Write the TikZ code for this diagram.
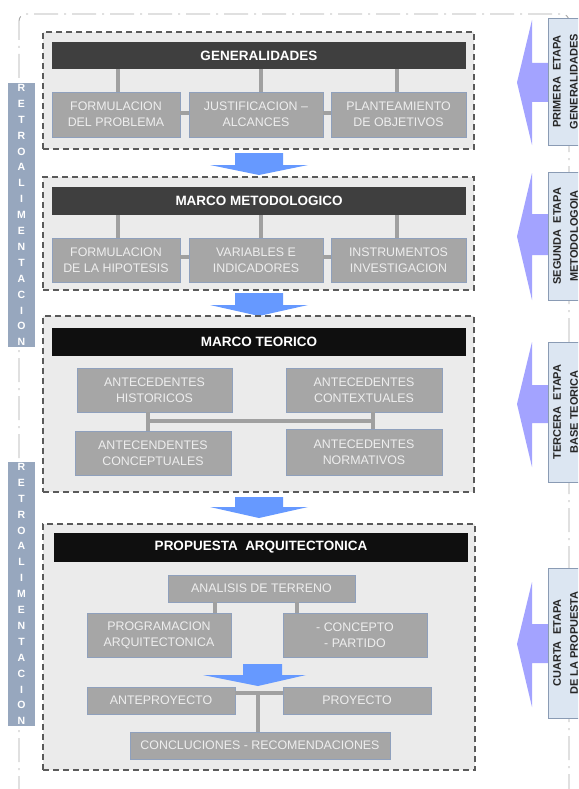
\documentclass[tikz,border=0pt]{standalone}
\usepackage{fontspec}
\setmainfont{Liberation Sans}
\usetikzlibrary{calc}
\definecolor{panelfill}{HTML}{EBEBEB}
\definecolor{paneldraw}{HTML}{5A5A5A}
\definecolor{hdrdark}{HTML}{3F3F3F}
\definecolor{hdrblack}{HTML}{0F0F0F}
\definecolor{subfill}{HTML}{A6A6A6}
\definecolor{subdraw}{HTML}{8FA0BC}
\definecolor{subtext}{HTML}{EEEEEE}
\definecolor{conn}{HTML}{A0A0A0}
\definecolor{bluarrow}{HTML}{6699FF}
\definecolor{lavarrow}{HTML}{A3A3FF}
\definecolor{stagefill}{HTML}{DCE6F2}
\definecolor{stagedraw}{HTML}{8A9BB4}
\definecolor{retrofill}{HTML}{97A7BE}
\definecolor{framecol}{HTML}{A8A8A8}
\begin{document}
\begin{tikzpicture}[x=1pt,y=-1pt,
  panel/.style={draw=paneldraw, fill=panelfill, line width=1.3pt, dash pattern=on 6pt off 4pt, inner sep=0pt, outer sep=0pt},
  hdr/.style={fill=#1, inner sep=0pt, outer sep=0pt, text=white, font=\fontsize{13.5}{15}\selectfont\bfseries},
  sub/.style={draw=subdraw, line width=0.8pt, fill=subfill, inner sep=0pt, outer sep=0pt, text=subtext, align=center, font=\fontsize{12.4}{16}\selectfont},
  link/.style={draw=conn, line width=3.3pt},
  stagebox/.style={draw=stagedraw, line width=0.8pt, fill=stagefill, inner sep=0pt, outer sep=0pt},
  stagetext/.style={rotate=90, align=center, text=black!85, font=\fontsize{11}{17}\selectfont\bfseries, inner sep=0pt},
  retro/.style={fill=retrofill, inner sep=0pt, outer sep=0pt, text=white, align=center, font=\fontsize{10.5}{15.9}\selectfont\bfseries},
  frame/.style={draw=framecol, line width=0.9pt, dash pattern=on 24pt off 6pt on 2pt off 6pt}
]
\useasboundingbox (0,0) rectangle (578,789);
\clip (0,0) rectangle (578,789);
\fill[white] (0,0) rectangle (578,789);

% outer dash-dot frame
\draw[frame, rounded corners=7pt] (19,800) -- (19,14) -- (569,14) -- (569,800);

% retroalimentacion boxes
\node[retro, minimum width=27pt, minimum height=264pt] (r1) at (21.5,215) {R\\E\\T\\R\\O\\A\\L\\I\\M\\E\\N\\T\\A\\C\\I\\O\\N};
\node[retro, minimum width=27pt, minimum height=264pt] (r2) at (21.5,594) {R\\E\\T\\R\\O\\A\\L\\I\\M\\E\\N\\T\\A\\C\\I\\O\\N};

% side (lavender) arrows
\fill[lavarrow] (517,82.5) -- (532,20) -- (532,63) -- (552,63) -- (552,102) -- (532,102) -- (532,145) -- cycle;
\fill[lavarrow] (517,236.5) -- (532,173) -- (532,214) -- (552,214) -- (552,255) -- (532,255) -- (532,300) -- cycle;
\fill[lavarrow] (517,404) -- (532,342) -- (532,385) -- (552,385) -- (552,423) -- (532,423) -- (532,467) -- cycle;
\fill[lavarrow] (517,644) -- (532,582) -- (532,624) -- (552,624) -- (552,663) -- (532,663) -- (532,707) -- cycle;

% stage boxes
\node[stagebox, minimum width=35pt, minimum height=127pt] (s1) at (565.5,81.5) {};
\node[stagetext] (s1t) at (s1.center) {PRIMERA\ \ ETAPA\\GENERALIDADES};
\node[stagebox, minimum width=35pt, minimum height=128pt] (s2) at (565.5,236) {};
\node[stagetext] (s2t) at (s2.center) {SEGUNDA\ \ ETAPA\\METODOLOGOIA};
\node[stagebox, minimum width=35pt, minimum height=140pt] (s3) at (565.5,412) {};
\node[stagetext] (s3t) at (s3.center) {TERCERA\ \ ETAPA\\BASE TEORICA};
\node[stagebox, minimum width=35pt, minimum height=150pt] (s4) at (565.5,643) {};
\node[stagetext] (s4t) at (s4.center) {CUARTA\ \ ETAPA\\DE LA PROPUESTA};

% ---------- panel 1
\node[panel, minimum width=431pt, minimum height=117pt] (p1) at (258.5,90.5) {};
\node[hdr=hdrdark, minimum width=414pt, minimum height=27pt] (h1) at (259,55.5) {GENERALIDADES};
\node[sub, minimum width=128pt, minimum height=45pt] (a1) at (116,114.5) {FORMULACION\\DEL PROBLEMA};
\node[sub, minimum width=134pt, minimum height=45pt] (a2) at (256,114.5) {JUSTIFICACION --\\ALCANCES};
\node[sub, minimum width=135pt, minimum height=45pt] (a3) at (398.5,114.5) {PLANTEAMIENTO\\DE OBJETIVOS};
\draw[link] ([xshift=2pt]a1.north) -- ([xshift=2pt]a1.north |- h1.south);
\draw[link] ([xshift=5pt]a2.north) -- ([xshift=5pt]a2.north |- h1.south);
\draw[link] ([xshift=-1.5pt]a3.north) -- ([xshift=-1.5pt]a3.north |- h1.south);
\draw[link] ([yshift=1.5pt]a1.east) -- ([yshift=1.5pt]a2.west);
\draw[link] ([yshift=1.5pt]a2.east) -- ([yshift=1.5pt]a3.west);

% arrow 1 -> 2
\fill[bluarrow] (235,153) -- (283,153) -- (283,165) -- (308,165) -- (259,175) -- (210,165) -- (235,165) -- cycle;

% ---------- panel 2
\node[panel, minimum width=431pt, minimum height=113pt] (p2) at (258.5,233.5) {};
\node[hdr=hdrdark, minimum width=414pt, minimum height=28pt] (h2) at (259,201) {MARCO METODOLOGICO};
\node[sub, minimum width=128pt, minimum height=44pt] (b1) at (116,260) {FORMULACION\\DE LA HIPOTESIS};
\node[sub, minimum width=134pt, minimum height=44pt] (b2) at (256,260) {VARIABLES E\\INDICADORES};
\node[sub, minimum width=135pt, minimum height=44pt] (b3) at (398.5,260) {INSTRUMENTOS\\INVESTIGACION};
\draw[link] ([xshift=2pt]b1.north) -- ([xshift=2pt]b1.north |- h2.south);
\draw[link] ([xshift=5pt]b2.north) -- ([xshift=5pt]b2.north |- h2.south);
\draw[link] ([xshift=-1.5pt]b3.north) -- ([xshift=-1.5pt]b3.north |- h2.south);
\draw[link] ([yshift=3pt]b1.east) -- ([yshift=3pt]b2.west);
\draw[link] ([yshift=3pt]b2.east) -- ([yshift=3pt]b3.west);

% arrow 2 -> 3
\fill[bluarrow] (235,293) -- (283,293) -- (283,305) -- (308,305) -- (259,316) -- (210,305) -- (235,305) -- cycle;

% ---------- panel 3
\node[panel, minimum width=431pt, minimum height=176pt] (p3) at (258.5,404) {};
\node[hdr=hdrblack, minimum width=414pt, minimum height=28pt] (h3) at (259,342) {MARCO TEORICO};
\node[sub, minimum width=155pt, minimum height=44pt] (c1) at (154.5,390) {ANTECEDENTES\\HISTORICOS};
\node[sub, minimum width=156pt, minimum height=44pt] (c2) at (364,390) {ANTECEDENTES\\CONTEXTUALES};
\node[sub, minimum width=156pt, minimum height=44pt] (c3) at (153,453) {ANTECENDENTES\\CONCEPTUALES};
\node[sub, minimum width=156pt, minimum height=46pt] (c4) at (364,452) {ANTECEDENTES\\NORMATIVOS};
\coordinate (j1) at ($(c1.south)+(-6.5,9)$);
\coordinate (j2) at ($(c2.south)+(9,9)$);
\draw[link] ([xshift=-6.5pt]c1.south) -- ([xshift=-6.5pt]c1.south |- c3.north);
\draw[link] ([xshift=9pt]c2.south) -- ([xshift=9pt]c2.south |- c4.north);
\draw[link] (j1) -- (j2);

% arrow 3 -> 4
\fill[bluarrow] (235,497) -- (283,497) -- (283,507) -- (308,507) -- (259,518) -- (210,507) -- (235,507) -- cycle;

% ---------- panel 4
\node[panel, minimum width=432pt, minimum height=246pt] (p4) at (259,647) {};
\node[hdr=hdrblack, minimum width=414pt, minimum height=29pt] (h4) at (261,547.5) {PROPUESTA\ \ ARQUITECTONICA};
\node[sub, minimum width=187pt, minimum height=27pt] (d0) at (261.5,588.5) {ANALISIS DE TERRENO};
\node[sub, minimum width=144pt, minimum height=44pt] (d1) at (159,635) {PROGRAMACION\\ARQUITECTONICA};
\node[sub, minimum width=144pt, minimum height=44pt] (d2) at (355,635) {- CONCEPTO\\- PARTIDO};
\coordinate (m1) at ([xshift=-46.5pt]d0.south);
\coordinate (m2) at ([xshift=35.5pt]d0.south);
\draw[link] (m1) -- (m1 |- d1.north);
\draw[link] (m2) -- (m2 |- d2.north);
\fill[bluarrow] (243,664) -- (282,664) -- (282,675) -- (306,675) -- (258,686) -- (203,675) -- (243,675) -- cycle;
\node[sub, minimum width=148pt, minimum height=27pt] (e1) at (161,700.5) {ANTEPROYECTO};
\node[sub, minimum width=148pt, minimum height=27pt] (e2) at (357,700.5) {PROYECTO};
\node[sub, minimum width=260pt, minimum height=27pt] (e3) at (260,745.5) {CONCLUCIONES - RECOMENDACIONES};
\coordinate (k1) at ([yshift=7.5pt]e1.east);
\coordinate (k2) at ([yshift=7.5pt]e2.west);
\coordinate (k3) at ([xshift=-2pt]e3.north);
\draw[link] (k1) -- (k2);
\draw[link] (k3) -- (k3 |- k1);
\end{tikzpicture}
\end{document}
